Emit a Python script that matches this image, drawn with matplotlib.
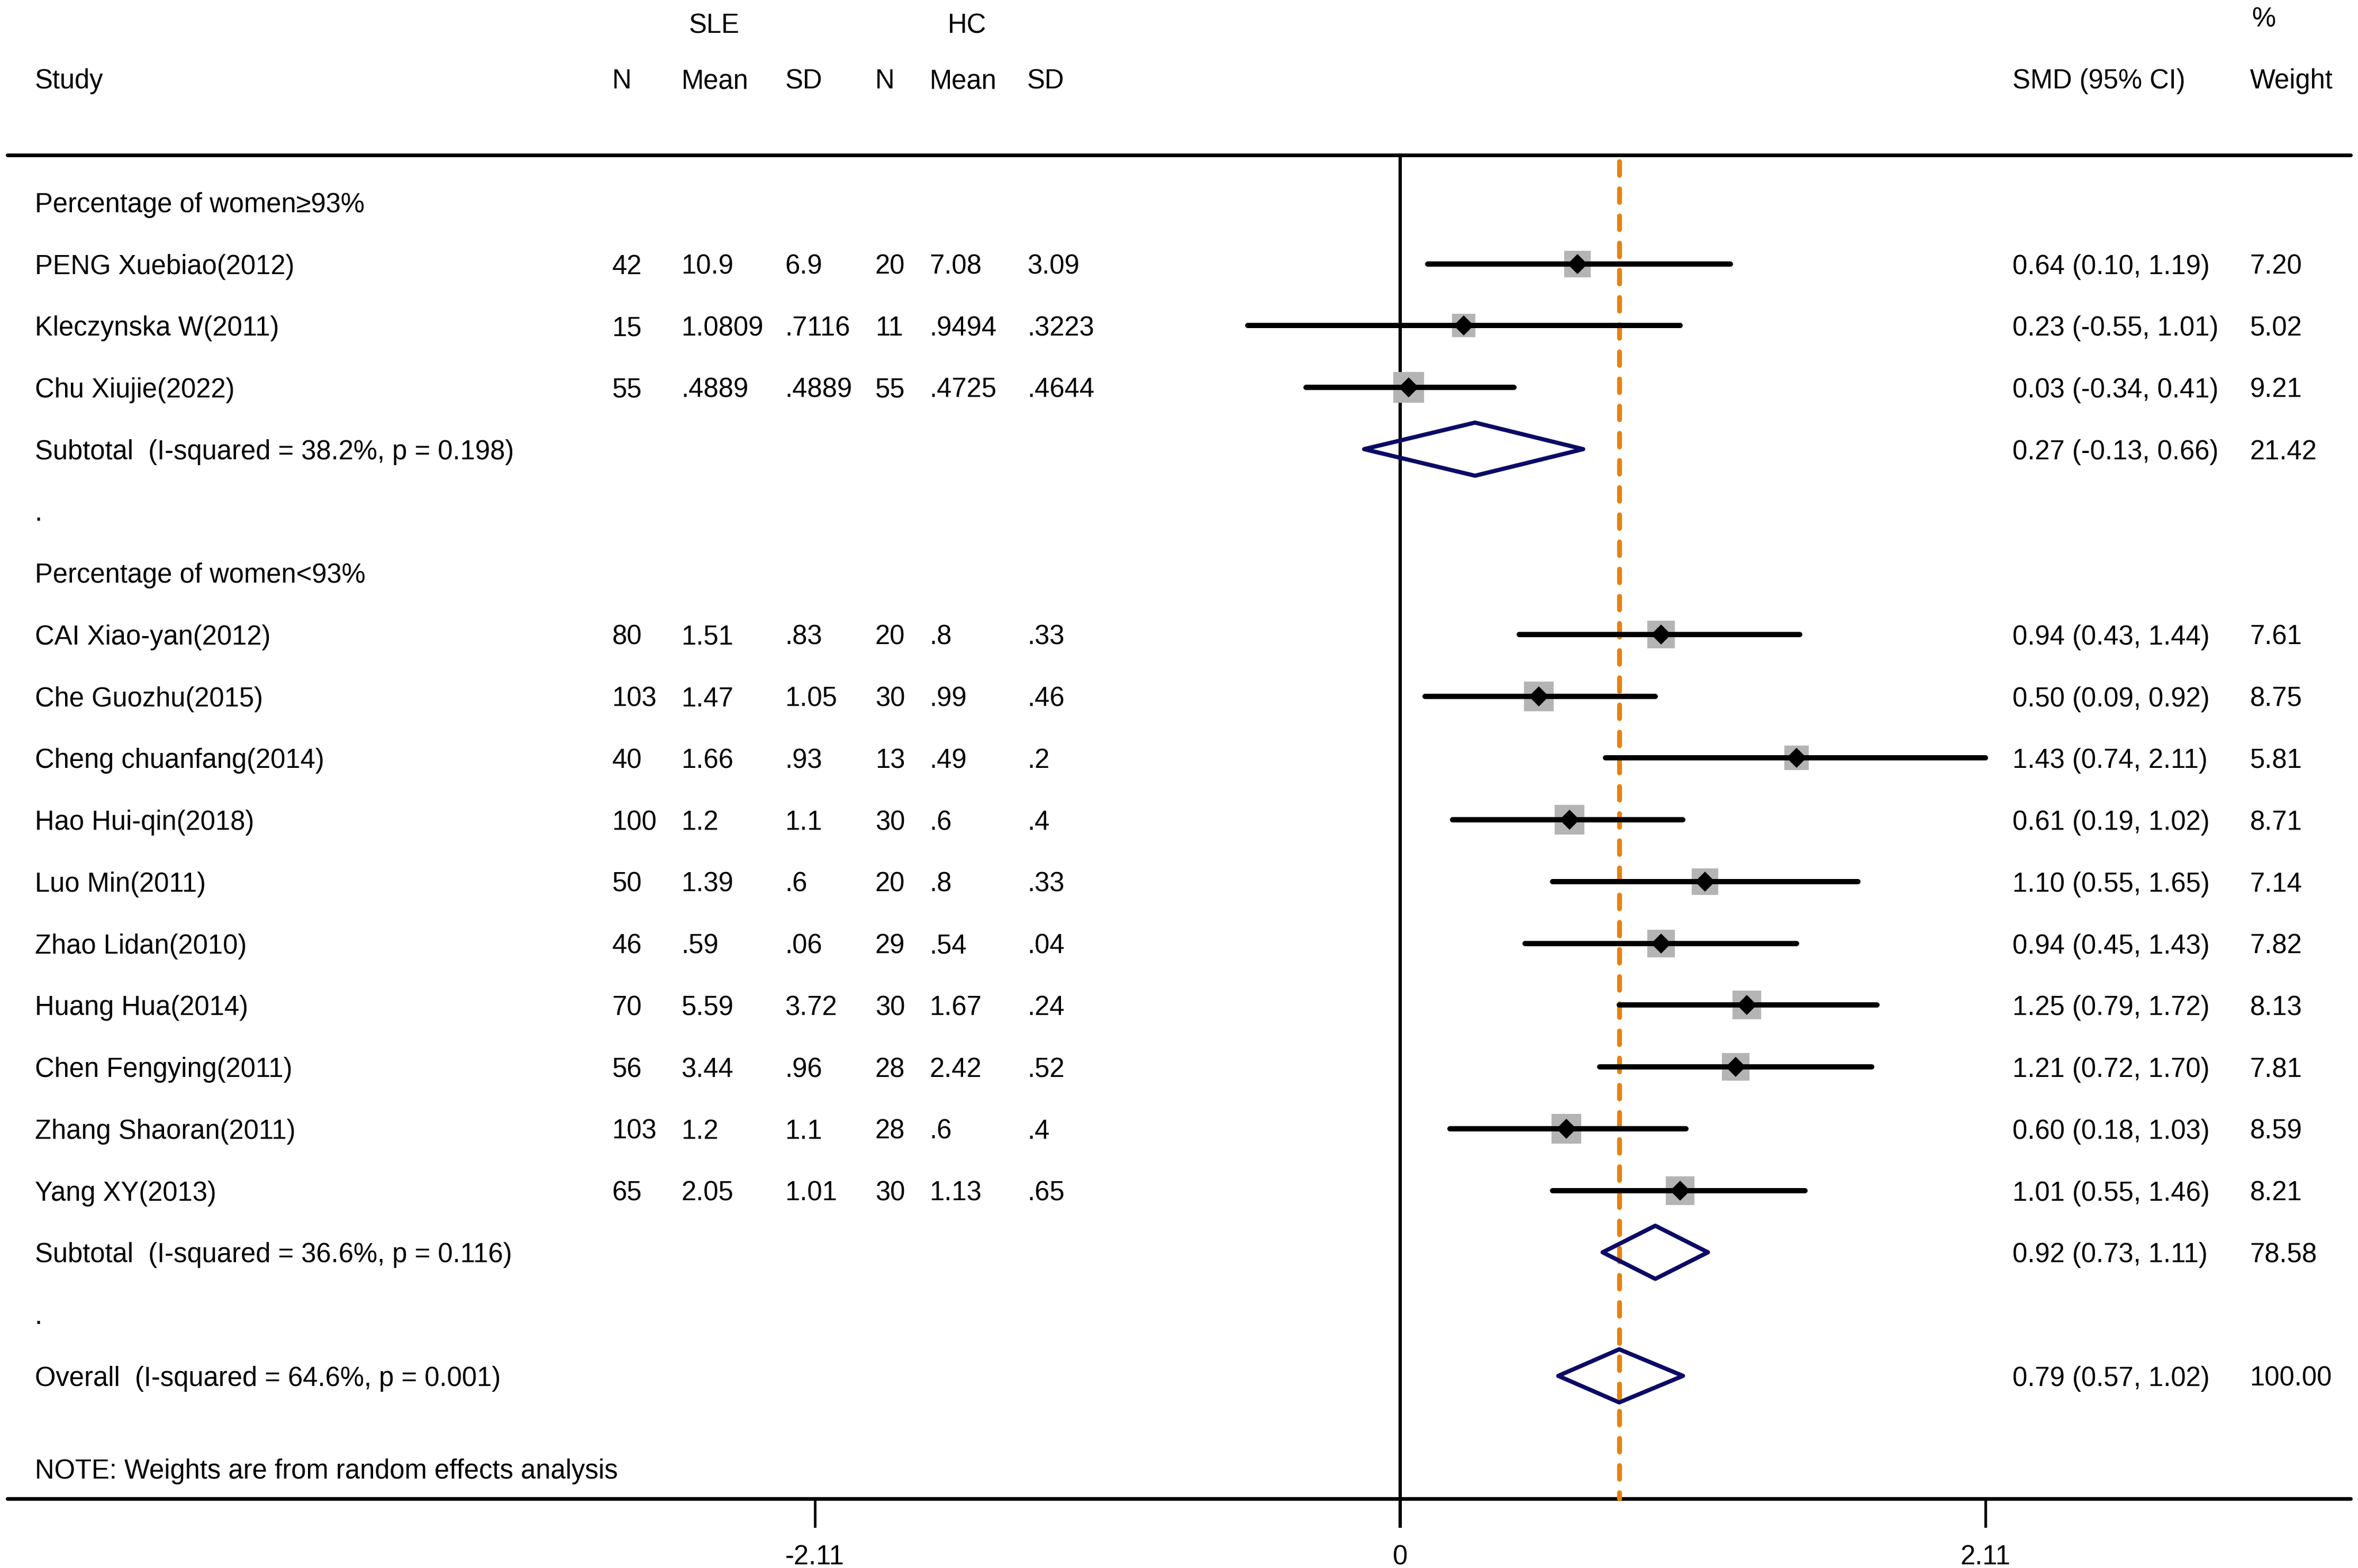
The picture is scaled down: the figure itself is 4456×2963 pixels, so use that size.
import matplotlib.pyplot as plt
from matplotlib.patches import Polygon
import numpy as np

plt.rcParams['font.family'] = ['Liberation Sans', 'DejaVu Sans']

# ---- data ----
group_titles = ['Percentage of women\u226593%', 'Percentage of women<93%']

studies = [
    ['PENG Xuebiao(2012)', 'Kleczynska W(2011)', 'Chu Xiujie(2022)'],
    ['CAI Xiao-yan(2012)', 'Che Guozhu(2015)', 'Cheng chuanfang(2014)', 'Hao Hui-qin(2018)',
     'Luo Min(2011)', 'Zhao Lidan(2010)', 'Huang Hua(2014)', 'Chen Fengying(2011)',
     'Zhang Shaoran(2011)', 'Yang XY(2013)'],
]
sle_n = [['42', '15', '55'],
         ['80', '103', '40', '100', '50', '46', '70', '56', '103', '65']]
sle_mean = [['10.9', '1.0809', '.4889'],
            ['1.51', '1.47', '1.66', '1.2', '1.39', '.59', '5.59', '3.44', '1.2', '2.05']]
sle_sd = [['6.9', '.7116', '.4889'],
          ['.83', '1.05', '.93', '1.1', '.6', '.06', '3.72', '.96', '1.1', '1.01']]
hc_n = [['20', '11', '55'],
        ['20', '30', '13', '30', '20', '29', '30', '28', '28', '30']]
hc_mean = [['7.08', '.9494', '.4725'],
           ['.8', '.99', '.49', '.6', '.8', '.54', '1.67', '2.42', '.6', '1.13']]
hc_sd = [['3.09', '.3223', '.4644'],
         ['.33', '.46', '.2', '.4', '.33', '.04', '.24', '.52', '.4', '.65']]

smd = [[0.64, 0.23, 0.03],
       [0.94, 0.50, 1.43, 0.61, 1.10, 0.94, 1.25, 1.21, 0.60, 1.01]]
ci_lo = [[0.10, -0.55, -0.34],
         [0.43, 0.09, 0.74, 0.19, 0.55, 0.45, 0.79, 0.72, 0.18, 0.55]]
ci_hi = [[1.19, 1.01, 0.41],
         [1.44, 0.92, 2.11, 1.02, 1.65, 1.43, 1.72, 1.70, 1.03, 1.46]]
weight = [[7.20, 5.02, 9.21],
          [7.61, 8.75, 5.81, 8.71, 7.14, 7.82, 8.13, 7.81, 8.59, 8.21]]

sub_labels = ['Subtotal  (I-squared = 38.2%, p = 0.198)',
              'Subtotal  (I-squared = 36.6%, p = 0.116)']
sub_smd = [0.27, 0.92]
sub_lo = [-0.13, 0.73]
sub_hi = [0.66, 1.11]
sub_weight = ['21.42', '78.58']

overall_label = 'Overall  (I-squared = 64.6%, p = 0.001)'
overall_smd, overall_lo, overall_hi = 0.79, 0.57, 1.02
overall_weight = '100.00'

xticks = [-2.11, 0, 2.11]
tick_labels = ['-2.11', '0', '2.11']
note = 'NOTE: Weights are from random effects analysis'

# ---- layout ----
FS = 12.2
NAVY = '#0b0b66'
ORANGE = '#e6820e'
GRAY = '#b4b4b4'

x_study, x_n1, x_m1, x_sd1 = -4.924, -2.842, -2.592, -2.218
x_n2, x_m2, x_sd2 = -1.893, -1.697, -1.345
x_smd, x_w = 2.207, 3.064

fig = plt.figure(figsize=(4456 / 300, 2963 / 300), dpi=300)
ax = fig.add_axes([0, 0, 1, 1])
ax.set_xlim(-5.049, 3.454)
ax.set_ylim(22.11, -3.27)
ax.axis('off')


def txt(x, y, s, ha='left'):
    ax.text(x, y, s, fontsize=FS, ha=ha, va='center_baseline', color='black')


def fmt_ci(m, lo, hi):
    return '%.2f (%.2f, %.2f)' % (m, lo, hi)


def diamond(m, lo, hi, y, h=0.43):
    ax.add_patch(Polygon([[lo, y], [m, y - h], [hi, y], [m, y + h]], closed=True,
                         fill=False, edgecolor=NAVY, lw=1.9, joinstyle='round', zorder=4))


# headers
txt(-2.473, -2.9, 'SLE', ha='center')
txt(-1.562, -2.9, 'HC', ha='center')
txt(3.07, -3.0, '%')
txt(x_study, -2.0, 'Study')
for x, s in [(x_n1, 'N'), (x_m1, 'Mean'), (x_sd1, 'SD'), (x_n2, 'N'),
             (x_m2, 'Mean'), (x_sd2, 'SD'), (x_smd, 'SMD (95% CI)'), (x_w, 'Weight')]:
    txt(x, -2.0, s)

# frame lines
top_y, bot_y = -0.76, 20.99
ax.plot([-5.022, 3.427], [top_y, top_y], color='black', lw=1.7, solid_capstyle='round')
ax.plot([-5.022, 3.427], [bot_y, bot_y], color='black', lw=1.7, solid_capstyle='round')
ax.plot([0, 0], [top_y, bot_y + 0.44], color='black', lw=1.5, zorder=2)
for t, lab in zip(xticks, tick_labels):
    ax.plot([t, t], [bot_y, bot_y + 0.44], color='black', lw=1.2)
    txt(t, bot_y + 0.9, lab, ha='center')
ax.plot([overall_smd, overall_smd], [top_y + 0.1, bot_y], color=ORANGE, lw=2.2,
        dashes=(2.8, 2.8), dash_capstyle='round', zorder=3)

# rows
row = 0
for g in range(len(group_titles)):
    txt(x_study, row, group_titles[g])
    row += 1
    for i in range(len(studies[g])):
        txt(x_study, row, studies[g][i])
        txt(x_n1, row, sle_n[g][i])
        txt(x_m1, row, sle_mean[g][i])
        txt(x_sd1, row, sle_sd[g][i])
        txt(x_n2, row, hc_n[g][i])
        txt(x_m2, row, hc_mean[g][i])
        txt(x_sd2, row, hc_sd[g][i])
        txt(x_smd, row, fmt_ci(smd[g][i], ci_lo[g][i], ci_hi[g][i]))
        txt(x_w, row, '%.2f' % weight[g][i])
        side = 4.2 * np.sqrt(weight[g][i])  # points, area ~ weight
        ax.plot(smd[g][i], row, marker='s', ms=side, color=GRAY, mec=GRAY, mew=1.0,
                mfc=GRAY, zorder=4, ls='none')
        ax.plot([ci_lo[g][i], ci_hi[g][i]], [row, row], color='black', lw=2.4,
                solid_capstyle='round', zorder=5)
        ax.plot(smd[g][i], row, marker='D', ms=5.6, color='black', zorder=6, ls='none')
        row += 1
    txt(x_study, row, sub_labels[g])
    txt(x_smd, row, fmt_ci(sub_smd[g], sub_lo[g], sub_hi[g]))
    txt(x_w, row, sub_weight[g])
    diamond(sub_smd[g], sub_lo[g], sub_hi[g], row)
    row += 1
    if g < len(group_titles) - 1:
        txt(x_study, row, '.')
        row += 1

txt(x_study, row, '.')
row += 1
txt(x_study, row, overall_label)
txt(x_smd, row, fmt_ci(overall_smd, overall_lo, overall_hi))
txt(x_w, row, overall_weight)
diamond(overall_smd, overall_lo, overall_hi, row)
txt(x_study, row + 1.5, note)

fig.savefig('out.png', dpi=300, facecolor='white')
